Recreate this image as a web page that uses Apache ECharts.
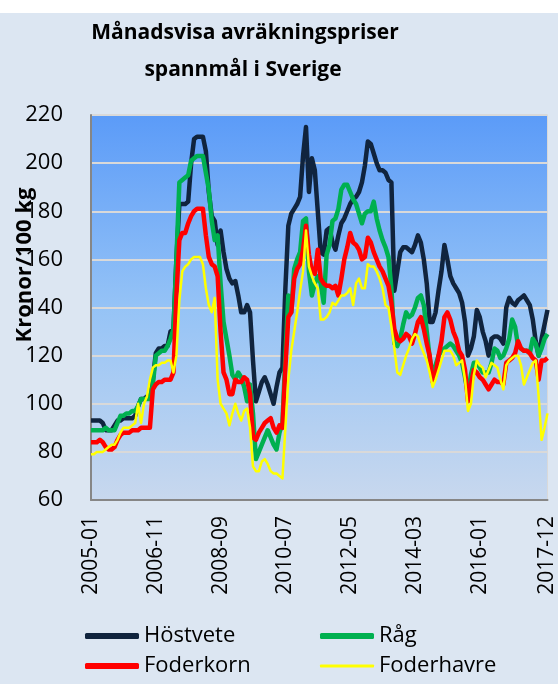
<!DOCTYPE html>
<html>
<head>
<meta charset="utf-8">
<script src="https://cdn.jsdelivr.net/npm/echarts/dist/echarts.min.js"></script>
<style>
  html, body { margin: 0; padding: 0; background: #ffffff; }
  #chart { width: 558px; height: 684px; }
</style>
</head>
<body>
<div id="chart"></div>
<script>
// months 2005-01 .. 2017-12
var months = [];
for (var y = 2005; y <= 2017; y++) {
  for (var m = 1; m <= 12; m++) {
    months.push(y + '-' + (m < 10 ? '0' + m : m));
  }
}

var hostvete = [
  93,93,93,93,92,89,89,89,91,93,
  93,94,94,94,94,95,99,102,102,103,
  103,110,121,123,123,124,124,130,131,160,
  183,183,183,184,200,210,211,211,211,205,
  188,178,176,166,172,163,156,152,150,151,
  145,138,138,141,138,118,101,105,109,111,
  108,104,100,107,113,115,148,174,179,181,
  183,186,203,215,188,202,197,180,163,162,
  172,173,167,164,170,175,177,180,183,185,
  186,188,192,199,209,208,204,200,197,197,
  196,193,192,147,155,163,165,165,164,163,
  166,170,167,160,150,134,134,138,147,155,
  166,160,153,150,148,146,142,134,120,123,
  128,139,136,130,126,120,127,128,128,127,
  125,140,144,142,141,143,144,145,143,141,
  135,126,120,127,133,139
];

var rag = [
  89,89,89,89,89,90,89,89,89,92,
  95,95,96,96,97,97,99,102,102,102,
  102,108,120,121,122,122,124,127,131,160,
  192,193,194,195,201,202,203,203,203,196,
  189,176,168,170,150,134,127,120,112,110,
  113,111,107,101,108,96,77,80,83,86,
  89,86,83,81,88,92,120,145,138,156,
  160,163,176,177,155,145,150,153,150,142,
  162,166,176,177,181,189,191,191,188,185,
  183,179,175,179,180,180,184,177,172,168,
  165,161,148,125,124,127,133,138,136,137,
  140,144,145,141,130,119,112,116,120,122,
  123,124,125,124,122,120,117,111,104,112,
  117,117,115,113,113,113,117,123,122,119,
  120,123,127,135,132,124,123,122,122,121,
  127,125,120,123,127,129
];

var foderkorn = [
  84,84,84,85,84,82,81,81,82,85,
  87,88,88,88,89,89,89,90,90,90,
  90,106,108,109,109,110,110,110,113,145,
  168,171,171,175,178,180,181,181,181,170,
  161,158,157,153,130,113,110,104,104,110,
  109,109,111,110,104,86,85,88,90,92,
  93,94,90,88,91,90,115,136,138,152,
  156,158,164,174,162,155,154,164,152,150,
  149,149,148,149,145,152,160,165,171,167,
  166,164,160,161,169,167,163,160,157,155,
  152,149,142,131,127,126,127,129,128,125,
  129,134,136,131,125,120,109,112,120,126,
  136,138,135,130,127,122,120,114,101,108,
  114,113,111,110,108,106,108,110,109,109,
  108,117,118,119,121,126,123,122,122,121,
  119,118,110,118,118,119
];

var foderhavre = [
  79,79,80,80,80,81,82,83,83,85,
  88,90,90,90,91,92,100,92,100,103,
  110,115,116,116,117,117,118,118,113,120,
  143,155,157,158,160,161,161,161,158,148,
  141,138,144,110,100,98,96,91,96,100,
  96,93,97,98,90,74,72,72,76,77,
  75,72,71,71,70,69,90,110,122,130,
  138,147,155,172,157,153,150,148,135,135,
  136,138,142,141,143,145,145,146,148,141,
  150,152,148,148,158,157,157,155,152,148,
  141,140,132,123,113,112,116,120,123,127,
  129,128,124,121,118,113,107,110,114,118,
  122,122,122,120,116,117,118,110,97,100,
  112,118,116,115,111,114,117,116,115,110,
  106,116,118,119,120,120,116,108,111,114,
  117,118,103,85,90,96
];

var seriesNames = ['Höstvete', 'Råg', 'Foderkorn', 'Foderhavre'];
var colors = ['#10243e', '#00b050', '#ff0000', '#ffff00'];
var widths = [4.5, 4.5, 4.5, 2.5];
var yTicks = { min: 60, max: 220, interval: 20 };

var font = '"Open Sans", sans-serif';

var chart = echarts.init(document.getElementById('chart'), null, { renderer: 'canvas' });

function lineSeries(idx, data) {
  return {
    name: seriesNames[idx],
    type: 'line',
    data: data,
    symbol: 'none',
    smooth: false,
    lineStyle: { color: colors[idx], width: widths[idx], join: 'round' },
    itemStyle: { color: colors[idx] }
  };
}

// one legend per entry so the 2x2 layout sits where the reference has it
function legendAt(idx, left, top, thick) {
  return {
    data: [{ name: seriesNames[idx], icon: 'roundRect' }],
    left: left,
    top: top,
    itemWidth: 54,
    itemHeight: thick,
    itemGap: 0,
    padding: 0,
    textStyle: { fontFamily: font, fontSize: 22, color: '#000000' },
    selectedMode: false
  };
}

var option = {
  backgroundColor: '#dce6f2',
  animation: false,
  graphic: [
    { type: 'rect', left: 0, top: 0, shape: { width: 558, height: 13 }, style: { fill: '#ffffff' } },
    { type: 'text', x: 245, y: 33, style: { text: 'Månadsvisa avräkningspriser', font: 'bold 21px "Open Sans", sans-serif', fill: '#000', textAlign: 'center', textVerticalAlign: 'middle' } },
    { type: 'text', x: 243, y: 70, style: { text: 'spannmål i Sverige', font: 'bold 21px "Open Sans", sans-serif', fill: '#000', textAlign: 'center', textVerticalAlign: 'middle' } },
    { type: 'text', x: 25, y: 265, rotation: Math.PI / 2, z: 100, style: { text: 'Kronor/100 kg', font: 'bold 22px "Open Sans", sans-serif', fill: '#000', textAlign: 'center', textVerticalAlign: 'middle' } }
  ],
  legend: [
    legendAt(0, 85, 625, 6),
    legendAt(1, 320, 625, 6),
    legendAt(2, 85, 655, 6),
    legendAt(3, 320, 655, 3)
  ],
  grid: {
    left: 91,
    top: 115,
    right: 9,
    bottom: 184,
    show: true,
    borderColor: '#d9d9d9',
    borderWidth: 1,
    backgroundColor: new echarts.graphic.LinearGradient(0, 0, 0, 1, [
      { offset: 0, color: '#5b9bf8' },
      { offset: 0.5, color: '#95c3f6' },
      { offset: 1, color: '#c8d8ee' }
    ])
  },
  xAxis: {
    type: 'category',
    data: months,
    boundaryGap: false,
    axisLine: { lineStyle: { color: '#868686', width: 2 } },
    axisTick: { show: false },
    splitLine: { show: false },
    axisLabel: {
      rotate: 90,
      margin: 16,
      fontFamily: font,
      fontSize: 21,
      color: '#000000',
      interval: function (idx) { return (idx % 22 === 0 && idx < 150) || idx === months.length - 1; }
    }
  },
  yAxis: {
    type: 'value',
    min: yTicks.min,
    max: yTicks.max,
    interval: yTicks.interval,
    axisLine: { show: true, lineStyle: { color: '#868686', width: 2 } },
    axisTick: { show: false },
    splitLine: { lineStyle: { color: '#d9d9d9', width: 2 } },
    axisLabel: { margin: 28, fontFamily: font, fontSize: 22, color: '#000000' }
  },
  series: [
    lineSeries(0, hostvete),
    lineSeries(1, rag),
    lineSeries(2, foderkorn),
    lineSeries(3, foderhavre)
  ]
};

chart.setOption(option);
</script>
</body>
</html>
